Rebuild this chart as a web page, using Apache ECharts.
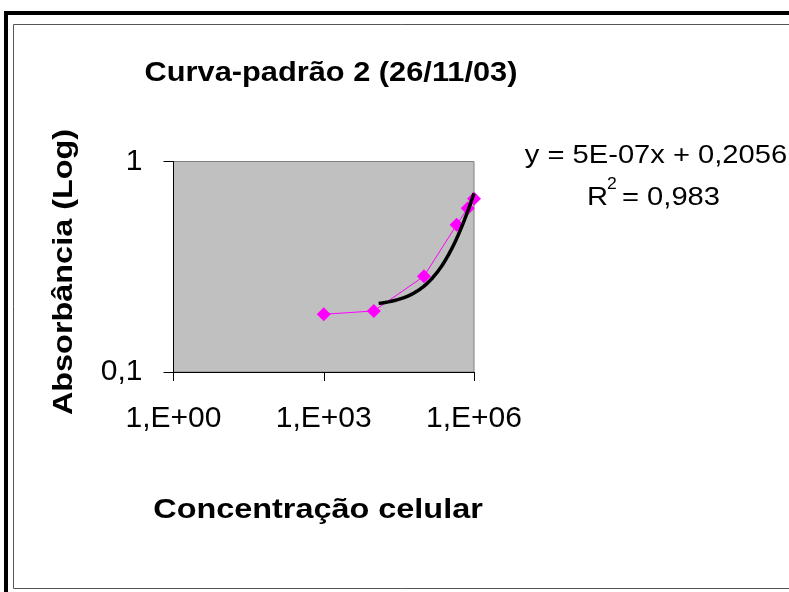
<!DOCTYPE html>
<html>
<head>
<meta charset="utf-8">
<script src="https://cdn.jsdelivr.net/npm/echarts@6/dist/echarts.min.js"></script>
<style>
  html, body { margin: 0; padding: 0; background: #ffffff; }
  #chart { width: 789px; height: 592px; }
</style>
</head>
<body>
<div id="chart"></div>
<script>
// Standard curve: cell concentration vs absorbance (log-log)
var concentration = [1e3, 1e4, 1e5, 4.5e5, 7.5e5, 1e6];
var absorbance = [0.188, 0.195, 0.285, 0.50, 0.60, 0.665];

// Linear regression shown in the legend text
var trendSlope = 5e-7;
var trendIntercept = 0.2056;
var trendStart = 1.25e4;
var trendEnd = 1e6;
var rSquared = '0,983';

var xTickLabels = {0: '1,E+00', 3: '1,E+03', 6: '1,E+06'};
var yTickLabels = {'-1': '0,1', '0': '1'};

var chartTitle = 'Curva-padrão 2 (26/11/03)';
var xName = 'Concentração celular';
var yName = 'Absorbância (Log)';

var FONT = '"Liberation Sans", Arial, sans-serif';

// Regression line sampled evenly on the log axis
var trendData = [];
var lo = Math.log10(trendStart), hi = Math.log10(trendEnd);
for (var i = 0; i <= 60; i++) {
  var xv = Math.pow(10, lo + (hi - lo) * i / 60);
  trendData.push([xv, trendSlope * xv + trendIntercept]);
}

var pointData = concentration.map(function (c, i) { return [c, absorbance[i]]; });

var chart = echarts.init(document.getElementById('chart'), null, {renderer: 'canvas'});

chart.setOption({
  backgroundColor: '#ffffff',
  animation: false,
  grid: {
    left: 173.5, right: 315, top: 161.5, bottom: 220,
    show: true, backgroundColor: '#C0C0C0', borderColor: '#808080', borderWidth: 1
  },
  xAxis: {
    type: 'log', logBase: 10, min: 1, max: 1e6, interval: 3,
    axisLine: {show: true, lineStyle: {color: '#000', width: 1}},
    axisTick: {show: true, length: 9, lineStyle: {color: '#000'}},
    splitLine: {show: false},
    minorTick: {show: false},
    axisLabel: {
      margin: 32, color: '#000', fontFamily: FONT, fontSize: 30,
      formatter: function (v) { return xTickLabels[Math.round(Math.log10(v))]; }
    }
  },
  yAxis: {
    type: 'log', logBase: 10, min: 0.1, max: 1, interval: 1,
    axisLine: {show: true, lineStyle: {color: '#000', width: 1}},
    axisTick: {show: true, length: 10, lineStyle: {color: '#000'}},
    splitLine: {show: false},
    axisLabel: {
      margin: 31, color: '#000', fontFamily: FONT, fontSize: 30,
      formatter: function (v) { return yTickLabels[String(Math.round(Math.log10(v)))]; }
    }
  },
  series: [
    {
      type: 'line', data: pointData,
      symbol: 'diamond', symbolSize: 14,
      itemStyle: {color: '#FF00FF'},
      lineStyle: {color: '#FF00FF', width: 1},
      z: 3
    },
    {
      type: 'line', data: trendData, showSymbol: false, symbol: 'none',
      lineStyle: {color: '#000000', width: 3.5},
      z: 4
    }
  ],
  graphic: [
    // outer frame
    {type: 'rect', shape: {x: 6, y: 13, width: 900, height: 900},
     style: {fill: null, stroke: '#000', lineWidth: 4}, silent: true},
    // chart area border
    {type: 'rect', shape: {x: 13.5, y: 24.5, width: 900, height: 564},
     style: {fill: null, stroke: '#555', lineWidth: 1}, silent: true},
    {type: 'text', x: 331, y: 74, scaleX: 1.14,
     style: {text: chartTitle, font: 'bold 27px ' + FONT, fill: '#000',
             textAlign: 'center', textVerticalAlign: 'middle'}},
    {type: 'text', x: 318, y: 511, scaleX: 1.2,
     style: {text: xName, font: 'bold 27px ' + FONT, fill: '#000',
             textAlign: 'center', textVerticalAlign: 'middle'}},
    {type: 'text', x: 65, y: 272, scaleX: 1.2, rotation: Math.PI / 2,
     style: {text: yName, font: 'bold 27px ' + FONT, fill: '#000',
             textAlign: 'center', textVerticalAlign: 'middle'}},
    {type: 'text', x: 656, y: 156, scaleX: 1.12,
     style: {text: 'y = ' + '5E-07' + 'x + ' + '0,2056', font: '26px ' + FONT, fill: '#000',
             textAlign: 'center', textVerticalAlign: 'middle'}},
    {type: 'text', x: 587, y: 198, scaleX: 1.12,
     style: {text: 'R', font: '26px ' + FONT, fill: '#000',
             textAlign: 'left', textVerticalAlign: 'middle'}},
    {type: 'text', x: 607, y: 185, scaleX: 1.1,
     style: {text: '2', font: '16px ' + FONT, fill: '#000',
             textAlign: 'left', textVerticalAlign: 'middle'}},
    {type: 'text', x: 622, y: 198, scaleX: 1.12,
     style: {text: '= ' + rSquared, font: '26px ' + FONT, fill: '#000',
             textAlign: 'left', textVerticalAlign: 'middle'}}
  ]
});
</script>
</body>
</html>
